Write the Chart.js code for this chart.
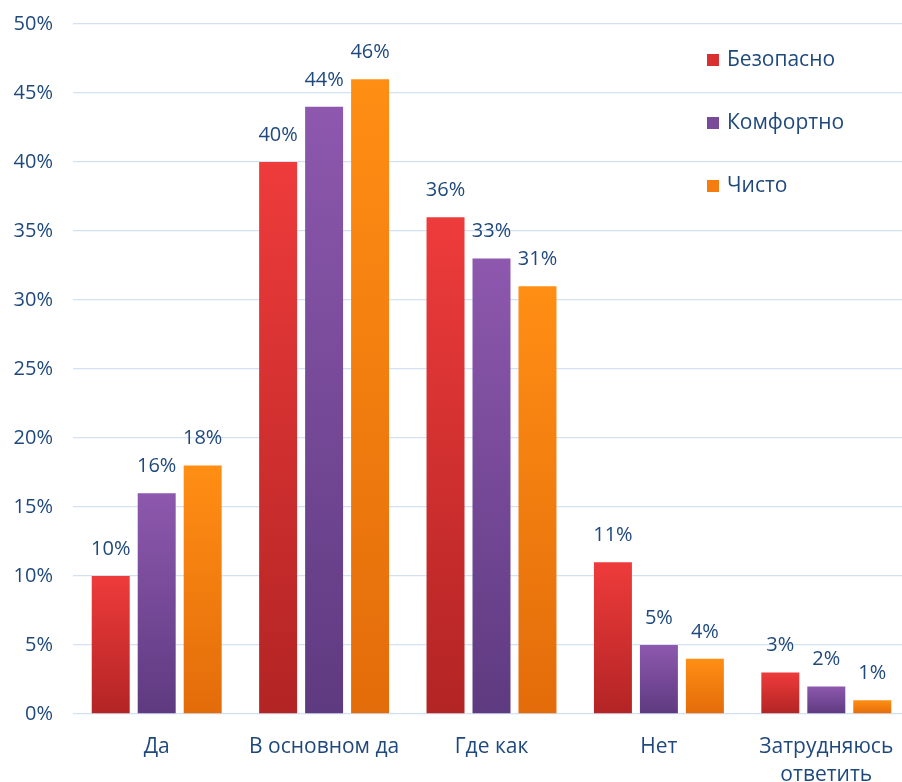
<!DOCTYPE html>
<html><head><meta charset="utf-8">
<script src="https://cdn.jsdelivr.net/npm/chart.js@4/dist/chart.umd.min.js"></script>
<style>
html,body{margin:0;padding:0;background:#fff;overflow:hidden;}
#wrap{width:912px;height:782px;position:relative;}
</style></head>
<body><div id="wrap"><canvas id="c"></canvas></div>
<script>
const categories = ['Да', 'В основном да', 'Где как', 'Нет', ['Затрудняюсь', 'ответить']];
const seriesNames = ['Безопасно', 'Комфортно', 'Чисто'];
const safe = [10, 40, 36, 11, 3];
const comfort = [16, 44, 33, 5, 2];
const clean = [18, 46, 31, 4, 1];
const yTicks = [0, 5, 10, 15, 20, 25, 30, 35, 40, 45, 50];

const TEXT = '#1F497D';
const FONT = '"Open Sans", Lato, sans-serif';
const FS = 21;
const palettes = [
  ['#EE3B3B', '#B32424', '#D83030'],
  ['#8D58AE', '#5E3A80', '#7A4A9A'],
  ['#FF8E14', '#E36C0A', '#F57D10']
];

function grad(i){
  return function(ctx){
    const chart = ctx.chart;
    if(!chart.chartArea || ctx.type !== 'data') return palettes[i][2];
    const y = chart.scales.y;
    const v = ctx.raw;
    const top = y.getPixelForValue(v), bot = y.getPixelForValue(0);
    if(!isFinite(top) || !isFinite(bot) || top === bot) return palettes[i][2];
    const g = chart.ctx.createLinearGradient(0, top, 0, bot);
    g.addColorStop(0, palettes[i][0]);
    g.addColorStop(1, palettes[i][1]);
    return g;
  };
}

const labelPlugin = {
  id: 'vals',
  afterDatasetsDraw(chart){
    const c = chart.ctx;
    c.save();
    c.font = (FS - 1) + 'px ' + FONT;
    c.fillStyle = TEXT;
    c.textAlign = 'center';
    c.textBaseline = 'middle';
    chart.data.datasets.forEach((ds, di) => {
      chart.getDatasetMeta(di).data.forEach((bar, j) => {
        c.fillText(ds.data[j] + '%', bar.x, bar.y - 27);
      });
    });
    c.restore();
  }
};

const legendPlugin = {
  id: 'lgd',
  afterDraw(chart){
    const c = chart.ctx;
    c.save();
    c.font = FS + 'px ' + FONT;
    c.textBaseline = 'middle';
    c.textAlign = 'left';
    chart.data.datasets.forEach((ds, i) => {
      const yc = 60 + 63 * i;
      c.fillStyle = palettes[i][2];
      c.fillRect(707, yc - 6, 12, 12);
      c.fillStyle = TEXT;
      c.fillText(ds.label, 727, yc);
    });
    c.restore();
  }
};

new Chart(document.getElementById('c'), {
  type: 'bar',
  data: {
    labels: categories,
    datasets: [
      {label: seriesNames[0], data: safe, backgroundColor: grad(0)},
      {label: seriesNames[1], data: comfort, backgroundColor: grad(1)},
      {label: seriesNames[2], data: clean, backgroundColor: grad(2)}
    ]
  },
  options: {
    responsive: true,
    maintainAspectRatio: false,
    animation: false,
    layout: {padding: {top: 24, left: 0, right: 2, bottom: 0}},
    datasets: {bar: {categoryPercentage: 0.824, barPercentage: 0.826}},
    plugins: {legend: {display: false}, tooltip: {enabled: false}},
    scales: {
      x: {
        grid: {display: false},
        border: {display: false},
        ticks: {color: TEXT, font: {family: FONT, size: FS, lineHeight: 1.333}, padding: 11, maxRotation: 0, autoSkip: false},
        afterFit(s){ s.height = 68; }
      },
      y: {
        min: 0, max: 50,
        afterBuildTicks(s){ s.ticks = yTicks.map(v => ({value: v})); },
        grid: {color: '#D3E1F2', lineWidth: 1.3, drawTicks: false},
        border: {display: false},
        ticks: {color: TEXT, font: {family: FONT, size: FS - 1}, padding: 20, callback: v => v + '%'},
        afterFit(s){ s.width = 73; s.paddingTop = 0; s.paddingBottom = 0; }
      }
    }
  },
  plugins: [labelPlugin, legendPlugin]
});
</script></body></html>
